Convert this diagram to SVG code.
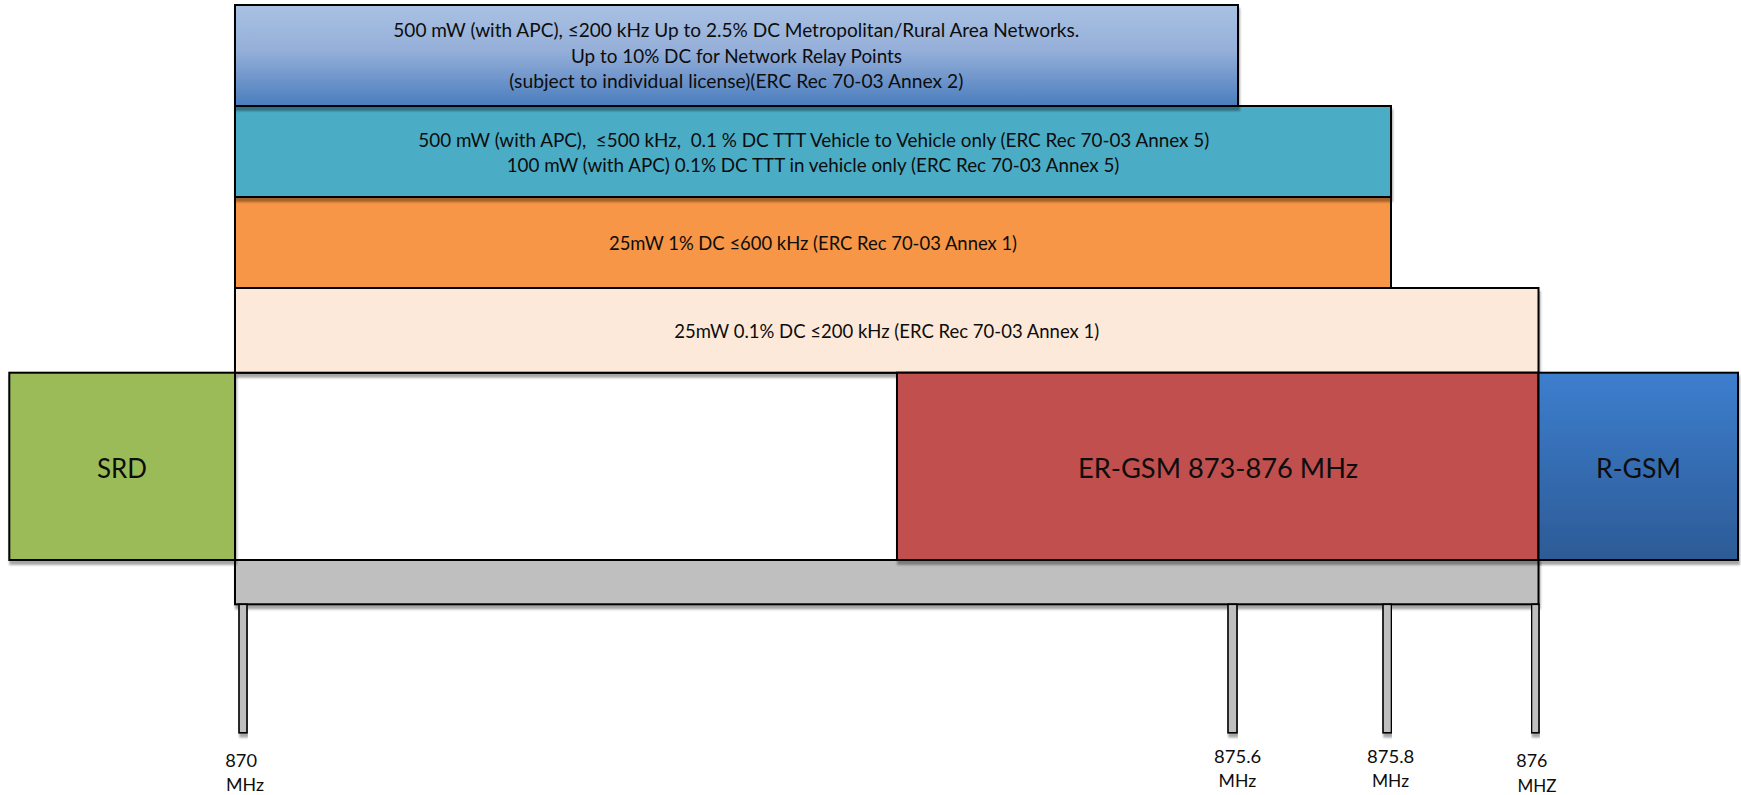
<svg xmlns="http://www.w3.org/2000/svg" width="1741" height="795" viewBox="0 0 1741 795">
  <style>
    .box { stroke: #000; stroke-width: 2; }
    .tick { fill: #bfbfbf; stroke: #000; stroke-width: 1.6; }
    .t { font-family: Lato, "Open Sans", "Liberation Sans", sans-serif; fill: #0d0d0d; }
    .band { font-size: 18.5px; text-anchor: middle; }
    .big { font-size: 26px; text-anchor: middle; }
    .lab { font-size: 18px; }
    .pre { white-space: pre; }
    .shd { filter: url(#shadow); }
  </style>
  <defs>
    <linearGradient id="gBlue" x1="0" y1="0" x2="0" y2="1">
      <stop offset="0" stop-color="#a9c1e2"/>
      <stop offset="0.45" stop-color="#95afd9"/>
      <stop offset="1" stop-color="#4a7dbd"/>
    </linearGradient>
    <linearGradient id="gRgsm" x1="0" y1="0" x2="0" y2="1">
      <stop offset="0" stop-color="#3d7ece"/>
      <stop offset="1" stop-color="#2c5b96"/>
    </linearGradient>
    <filter id="shadow" x="-5%" y="-10%" width="110%" height="130%">
      <feDropShadow dx="1" dy="4" stdDeviation="1.2" flood-color="#000" flood-opacity="0.35"/>
    </filter>
  </defs>

  <!-- frequency axis bar -->
  <g id="axis-bar">
    <rect class="box shd" x="235" y="560" width="1303.5" height="44.3" fill="#bfbfbf"/>
  </g>

  <!-- ticks -->
  <g id="tick-870">
    <rect class="tick shd" x="239" y="604.3" width="8" height="128.5"/>
    <text class="t lab" x="225.3" y="766.7" textLength="31.7" lengthAdjust="spacingAndGlyphs">870</text>
    <text class="t lab" x="226" y="791" textLength="38" lengthAdjust="spacingAndGlyphs">MHz</text>
  </g>
  <g id="tick-875-6">
    <rect class="tick shd" x="1228" y="604.3" width="9" height="128.5"/>
    <text class="t lab" x="1214" y="762.7" textLength="47.2" lengthAdjust="spacingAndGlyphs">875.6</text>
    <text class="t lab" x="1218.6" y="786.7" textLength="37.6" lengthAdjust="spacingAndGlyphs">MHz</text>
  </g>
  <g id="tick-875-8">
    <rect class="tick shd" x="1383" y="604.3" width="8.5" height="128.5"/>
    <text class="t lab" x="1367" y="762.7" textLength="47.3" lengthAdjust="spacingAndGlyphs">875.8</text>
    <text class="t lab" x="1372" y="786.7" textLength="37" lengthAdjust="spacingAndGlyphs">MHz</text>
  </g>
  <g id="tick-876">
    <rect class="tick shd" x="1531.5" y="604.3" width="7.5" height="128.5"/>
    <text class="t lab" x="1516.3" y="767.3" textLength="31.1" lengthAdjust="spacingAndGlyphs">876</text>
    <text class="t lab" x="1517.4" y="791.7" textLength="39" lengthAdjust="spacingAndGlyphs">MHZ</text>
  </g>

  <!-- empty white segment -->
  <g id="gap">
    <rect class="box" x="235" y="372.7" width="662" height="187.3" fill="#ffffff"/>
  </g>

  <!-- band 4: peach -->
  <g id="band-25mw-01">
    <rect class="box shd" x="235" y="288" width="1303.5" height="84.7" fill="#fde9d9"/>
    <text class="t band" x="886.7" y="337.7" textLength="425" lengthAdjust="spacingAndGlyphs">25mW 0.1% DC ≤200 kHz (ERC Rec 70-03 Annex 1)</text>
  </g>

  <!-- SRD -->
  <g id="srd">
    <rect class="box shd" x="9.3" y="372.7" width="225.7" height="187.3" fill="#9bbb59"/>
    <text class="t big" x="122" y="477.7" textLength="50" lengthAdjust="spacingAndGlyphs">SRD</text>
  </g>

  <!-- ER-GSM -->
  <g id="er-gsm">
    <rect class="box shd" x="897" y="372.7" width="641.5" height="187.3" fill="#c0504d"/>
    <text class="t big" x="1218" y="477.7" textLength="280" lengthAdjust="spacingAndGlyphs">ER-GSM 873-876 MHz</text>
  </g>

  <!-- R-GSM -->
  <g id="r-gsm">
    <rect class="box shd" x="1538.5" y="372.7" width="199.5" height="187.3" fill="url(#gRgsm)"/>
    <text class="t big" x="1638.5" y="477.7" textLength="85" lengthAdjust="spacingAndGlyphs">R-GSM</text>
  </g>

  <!-- band 3: orange -->
  <g id="band-25mw-1">
    <rect class="box" x="235" y="197" width="1156" height="91" fill="#f79646"/>
    <text class="t band" x="813" y="250" textLength="408" lengthAdjust="spacingAndGlyphs">25mW 1% DC ≤600 kHz (ERC Rec 70-03 Annex 1)</text>
  </g>

  <!-- band 2: teal -->
  <g id="band-ttt">
    <rect class="box shd" x="235" y="106" width="1156" height="91" fill="#4bacc6"/>
    <text class="t band pre" x="813.8" y="146.7" textLength="791" lengthAdjust="spacingAndGlyphs" xml:space="preserve">500 mW (with APC),  ≤500 kHz,  0.1 % DC TTT Vehicle to Vehicle only (ERC Rec 70-03 Annex 5)</text>
    <text class="t band" x="813" y="172.3" textLength="612.7" lengthAdjust="spacingAndGlyphs">100 mW (with APC) 0.1% DC TTT in vehicle only (ERC Rec 70-03 Annex 5)</text>
  </g>

  <!-- band 1: blue gradient -->
  <g id="band-500mw-networks">
    <rect class="box shd" x="235" y="5" width="1003" height="101" fill="url(#gBlue)"/>
    <text class="t band" x="736.3" y="37" textLength="686" lengthAdjust="spacingAndGlyphs">500 mW (with APC), ≤200 kHz Up to 2.5% DC Metropolitan/Rural Area Networks.</text>
    <text class="t band" x="736.5" y="62.5" textLength="331" lengthAdjust="spacingAndGlyphs">Up to 10% DC for Network Relay Points</text>
    <text class="t band" x="736.3" y="88" textLength="454" lengthAdjust="spacingAndGlyphs">(subject to individual license)(ERC Rec 70-03 Annex 2)</text>
  </g>

  <g id="connectors"></g>
</svg>
